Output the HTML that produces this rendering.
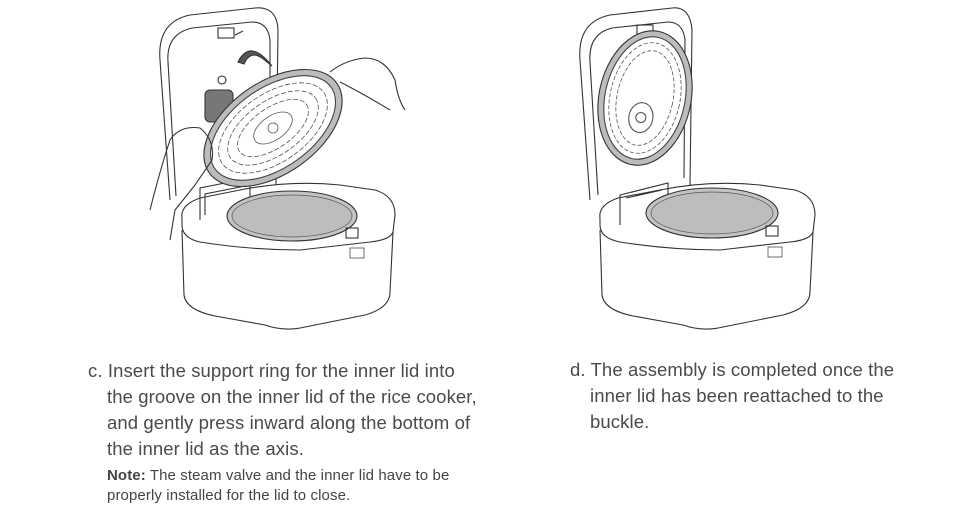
<!DOCTYPE html>
<html><head><meta charset="utf-8"><style>
body{margin:0;width:962px;height:506px;background:#fff;position:relative;overflow:hidden;font-family:"Liberation Sans",sans-serif;color:#4a4a4a}
.t{position:absolute;font-size:18.5px;line-height:26px;white-space:nowrap;letter-spacing:0.1px}
.n{position:absolute;font-size:15px;line-height:20px;white-space:nowrap;color:#444;letter-spacing:0.1px}
svg{position:absolute;left:0;top:0}
</style></head><body>
<svg width="962" height="350" viewBox="0 0 962 350" fill="none" stroke="#333" stroke-width="1.1">
<!-- LEFT COOKER -->
<g>
<path d="M170 200 L160 60 Q157 22 190 15 L255 8 Q277 6 278 30 L276 185"/>
<path d="M176 196 L168 62 Q166 34 192 28 L252 22 Q268 22 270 40 L270 180"/>
<rect x="218" y="28" width="16" height="10"/>
<path d="M235 35 l8 -4" />
<path d="M200 220 L200 188 L250 178 L250 205"/>
<path d="M205 215 L205 194 L245 186"/>
<path d="M182 218 Q180 205 200 198 L240 190 Q290 180 340 185 L375 190 Q395 196 395 215 L393 232 Q390 240 370 242 L300 250 Q250 250 200 242 Q182 238 182 225 Z"/>
<path d="M182 230 L184 295 Q186 310 215 316 L265 325 Q285 332 305 327 L365 315 Q390 308 390 292 L393 232"/>
<ellipse cx="292" cy="216" rx="65" ry="25" fill="#c4c4c4" stroke="#333"/>
<ellipse cx="292" cy="216" rx="60" ry="21" fill="#bdbdbd" stroke="#555" stroke-width=".7"/>
<rect x="346" y="228" width="12" height="10"/>
<rect x="350" y="248" width="14" height="10" stroke-width=".7"/>
<circle cx="222" cy="80" r="4"/>
<rect x="205" y="90" width="28" height="32" rx="5" fill="#777" stroke="#333"/>
<g transform="rotate(-35 273 128)">
<ellipse cx="273" cy="128" rx="78" ry="46" fill="#bcbcbc" stroke="#333"/>
<ellipse cx="273" cy="128" rx="71" ry="40" fill="#fff" stroke="#444"/>
<g fill="#fff" stroke="#555" stroke-width=".8">
<ellipse cx="273" cy="128" rx="22" ry="12"/>
<circle cx="273" cy="128" r="5"/>
</g>
<g stroke="#555" stroke-width=".8" stroke-dasharray="5 2">
<ellipse cx="273" cy="128" rx="62" ry="34"/>
<ellipse cx="273" cy="128" rx="52" ry="27"/>
<ellipse cx="273" cy="128" rx="41" ry="20"/>
</g>
</g>
<path d="M238 62 Q250 38 272 66 L262 58 Q250 50 244 64 Z" fill="#555"/>
<path d="M150 210 Q160 170 170 140 Q180 125 200 128 Q215 140 212 160 L195 185 L175 210 L170 240"/>
<path d="M330 72 Q345 60 365 58 Q385 58 395 80 Q398 100 405 110 M340 82 Q360 92 390 110"/>
</g>
<!-- RIGHT COOKER -->
<g>
<path d="M590 200 L580 60 Q577 22 610 15 L672 8 Q690 6 692 30 L690 185"/>
<path d="M598 195 L590 62 Q588 34 612 28 L668 22 Q683 22 685 40 L684 178"/>
<rect x="637" y="25" width="16" height="10"/>
<path d="M620 225 L620 195 L668 183 L668 208"/>
<path d="M626 198 L662 190"/>
<path d="M600 218 Q598 205 618 198 L660 190 Q710 180 760 185 L795 190 Q815 196 815 215 L813 232 Q810 240 790 242 L720 250 Q670 250 620 242 Q600 238 600 225 Z"/>
<path d="M600 230 L602 295 Q604 310 633 316 L683 325 Q703 332 723 327 L783 315 Q810 308 810 292 L813 232"/>
<ellipse cx="712" cy="213" rx="66" ry="25" fill="#c4c4c4" stroke="#333"/>
<ellipse cx="712" cy="213" rx="61" ry="21" fill="#bdbdbd" stroke="#555" stroke-width=".7"/>
<rect x="766" y="226" width="12" height="10"/>
<rect x="768" y="247" width="14" height="10" stroke-width=".7"/>
<g transform="rotate(12 645 98)">
<ellipse cx="645" cy="98" rx="46" ry="68" fill="#bcbcbc" stroke="#333"/>
<ellipse cx="645" cy="98" rx="40" ry="62" fill="#fff" stroke="#444"/>
<g stroke="#555" stroke-width=".8" stroke-dasharray="4 2">
<ellipse cx="645" cy="98" rx="35" ry="56"/>
<ellipse cx="645" cy="98" rx="28" ry="48"/>
</g>
<ellipse cx="645" cy="118" rx="12" ry="15" stroke="#555"/>
<circle cx="645" cy="118" r="5" stroke="#555"/>
</g>
</g>
</svg>
<div class="t" style="left:88px;top:358px">c. Insert the support ring for the inner lid into</div>
<div class="t" style="left:107px;top:384px">the groove on the inner lid of the rice cooker,</div>
<div class="t" style="left:107px;top:410px">and gently press inward along the bottom of</div>
<div class="t" style="left:107px;top:436px">the inner lid as the axis.</div>
<div class="n" style="left:107px;top:466px"><b style="font-weight:600">Note:</b> The steam valve and the inner lid have to be</div>
<div class="n" style="left:107px;top:486px">properly installed for the lid to close.</div>
<div class="t" style="left:570px;top:357px">d. The assembly is completed once the</div>
<div class="t" style="left:590px;top:383px">inner lid has been reattached to the</div>
<div class="t" style="left:590px;top:409px">buckle.</div>
</body></html>
